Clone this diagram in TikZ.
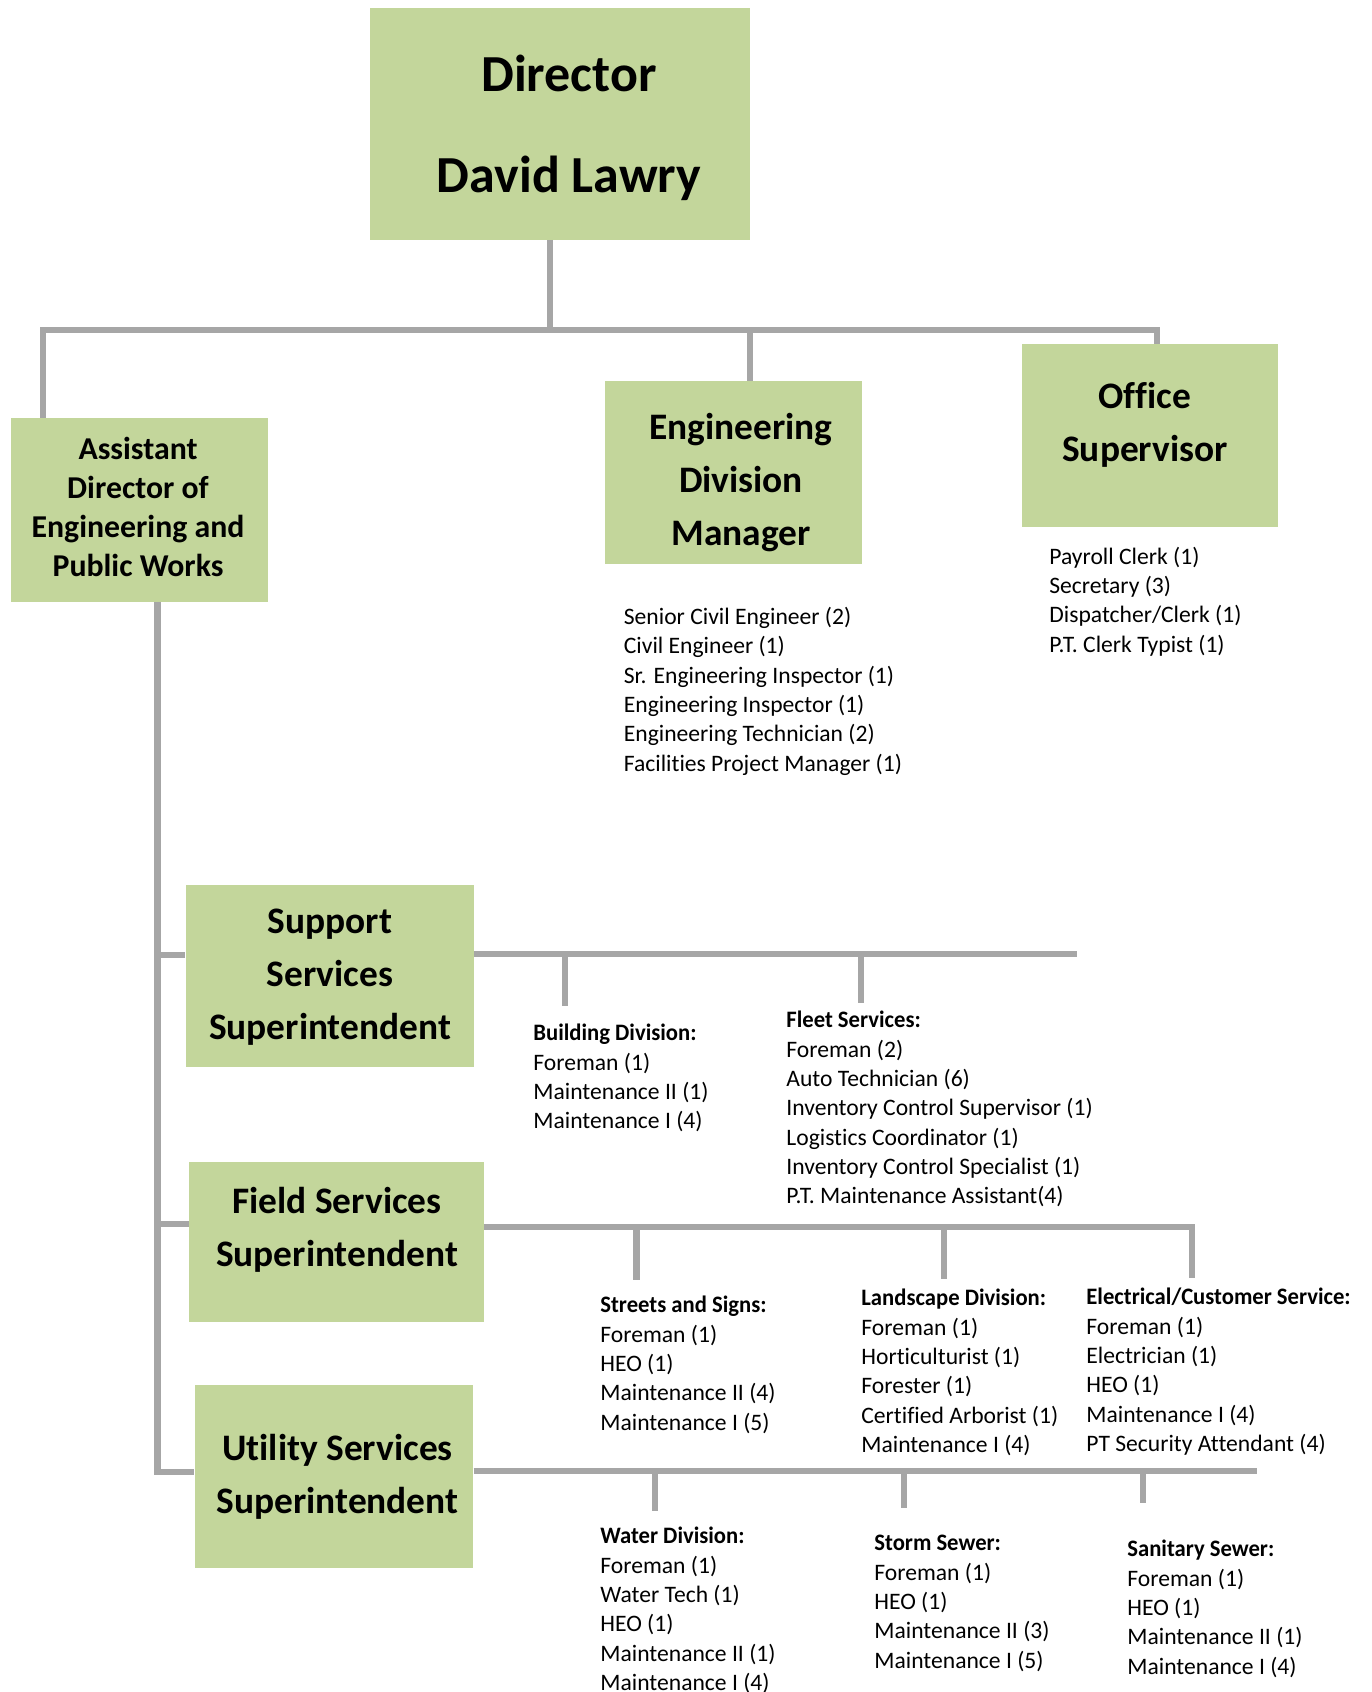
\documentclass[tikz,border=0pt]{standalone}
\usepackage{fontspec}
\setmainfont{Carlito}[Ligatures=CommonOff]
\newfontfamily\hdrfont{Carlito}[Ligatures=CommonOff, FakeStretch=0.96]
\newcommand\hdr[1]{{\hdrfont\bfseries #1}}
\definecolor{boxgreen}{HTML}{C3D69B}
\definecolor{linegray}{HTML}{A6A6A6}
\tikzset{
  box/.style={fill=boxgreen, inner sep=0pt},
  title/.style={align=center, inner sep=0pt, font=\bfseries\fontsize{18.7}{26.5}\selectfont},
  conn/.style={draw=linegray, line width=3.4pt},
  staff/.style={anchor=north west, inner sep=0pt, align=left,
    font=\fontsize{11.8}{14.65}\selectfont, execute at begin node=\strut},
}
\begin{document}
\begin{tikzpicture}[x=0.5pt, y=-0.5pt]
  \useasboundingbox (0,0) rectangle (1371,1692);

  % boxes
  \node[box, minimum width=190pt, minimum height=116pt] (dir) at (560, 123.5) {};
  \node[box, minimum width=128.5pt, minimum height=92pt] (asst) at (139.5, 510) {};
  \node[box, minimum width=128.5pt, minimum height=91.5pt] (eng) at (733.5, 472.5) {};
  \node[box, minimum width=128pt, minimum height=91.5pt] (office) at (1150, 435.5) {};
  \node[box, minimum width=144pt, minimum height=90.75pt] (sup) at (329.5, 976) {};
  \node[box, minimum width=147.5pt, minimum height=80pt] (fld) at (336.5, 1242) {};
  \node[box, minimum width=139.25pt, minimum height=91.5pt] (util) at (334, 1476.5) {};

  % box titles
  \node[title, font=\bfseries\fontsize{26}{50.5}\selectfont] (dirT) at (569, 128) {Director\\David Lawry};
  \node[title, font=\bfseries\fontsize{15.9}{19.5}\selectfont] (asstT) at (138, 507) {Assistant\\Director of\\Engineering and\\Public Works};
  \node[title] (engT) at (741, 483) {Engineering\\Division\\Manager};
  \node[title] (officeT) at (1145, 425) {Office\\Supervisor};
  \node[title] (supT) at (330, 977) {Support\\Services\\Superintendent};
  \node[title] (fldT) at (337, 1230) {Field Services\\Superintendent};
  \node[title] (utilT) at (337.5, 1477) {Utility Services\\Superintendent};

  % top level lines
  \coordinate (busA) at (550, 330);
  \coordinate (busL) at (43, 330);
  \coordinate (busM) at (750, 330);
  \coordinate (busR) at (1157, 330);
  \draw[conn] (dir.south -| busA) -- (busA);
  \draw[conn] (asst.north -| busL) -- (busL) -- (busR) -- (office.north -| busR);
  \draw[conn] (busM) -- (eng.north -| busM);

  % assistant director stem
  \coordinate (stemS) at (157.5, 955);
  \coordinate (stemF) at (157.5, 1224);
  \coordinate (stemU) at (157.5, 1472);
  \draw[conn] (asst.south -| stemU) -- (stemU) -- (util.west |- stemU);
  \draw[conn] (stemS) -- (sup.west |- stemS);
  \draw[conn] (stemF) -- (fld.west |- stemF);

  % superintendent lines
  \coordinate (supE) at (1077, 954);
  \coordinate (fldE) at (1192, 1227);
  \coordinate (fldD) at (1192, 1278);
  \coordinate (utilE) at (1257, 1471);
  \draw[conn] (sup.east |- supE) -- (supE);
  \draw[conn] (fld.east |- fldE) -- (fldE) -- (fldD);
  \draw[conn] (util.east |- utilE) -- (utilE);
  \foreach \n/\x/\ya/\yb in {bld/565/954/1006, flt/861/954/1003,
      str/636.5/1227/1280, lnd/944/1227/1279,
      wat/655/1471/1511, stm/904/1471/1508, san/1143/1471/1503} {
    \coordinate (j\n) at (\x, \ya);
    \coordinate (d\n) at (\x, \yb);
    \draw[conn] (j\n) -- (d\n);
  }

  % staff lists
  \node[staff] (engL) at (623.5, 607) {Senior Civil Engineer (2)\\Civil Engineer (1)\\Sr. Engineering Inspector (1)\\Engineering Inspector (1)\\Engineering Technician (2)\\Facilities Project Manager (1)};
  \node[staff] (officeL) at (1049, 546.5) {Payroll Clerk (1)\\Secretary (3)\\Dispatcher/Clerk (1)\\P.T. Clerk Typist (1)};
  \node[staff] (bldL) at (533, 1024) {\hdr{Building Division:}\\Foreman (1)\\Maintenance II (1)\\Maintenance I (4)};
  \node[staff] (fltL) at (786, 1011) {\hdr{Fleet Services:}\\Foreman (2)\\Auto Technician (6)\\Inventory Control Supervisor (1)\\Logistics Coordinator (1)\\Inventory Control Specialist (1)\\P.T. Maintenance Assistant(4)};
  \node[staff] (strL) at (600, 1296) {\hdr{Streets and Signs:}\\Foreman (1)\\HEO (1)\\Maintenance II (4)\\Maintenance I (5)};
  \node[staff] (lndL) at (861, 1289) {\hdr{Landscape Division:}\\Foreman (1)\\Horticulturist (1)\\Forester (1)\\Certified Arborist (1)\\Maintenance I (4)};
  \node[staff] (elcL) at (1086, 1288) {\hdr{Electrical/Customer Service:}\\Foreman (1)\\Electrician (1)\\HEO (1)\\Maintenance I (4)\\PT Security Attendant (4)};
  \node[staff] (watL) at (600, 1527) {\hdr{Water Division:}\\Foreman (1)\\Water Tech (1)\\HEO (1)\\Maintenance II (1)\\Maintenance I (4)};
  \node[staff] (stmL) at (874, 1535) {\hdr{Storm Sewer:}\\Foreman (1)\\HEO (1)\\Maintenance II (3)\\Maintenance I (5)};
  \node[staff] (sanL) at (1127, 1540) {\hdr{Sanitary Sewer:}\\Foreman (1)\\HEO (1)\\Maintenance II (1)\\Maintenance I (4)};
\end{tikzpicture}
\end{document}
